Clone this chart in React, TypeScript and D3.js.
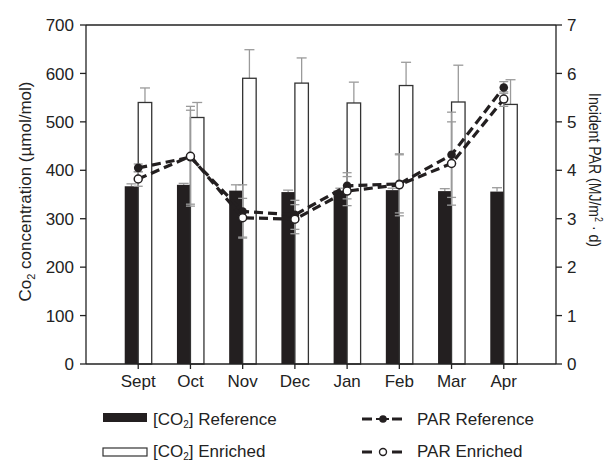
import React from "react";
import * as d3 from "d3";

const months = ["Sept", "Oct", "Nov", "Dec", "Jan", "Feb", "Mar", "Apr"];
const co2Reference = [367, 370, 358, 355, 358, 359, 357, 356];
const co2ReferenceErr = [5, 3, 12, 4, 5, 4, 5, 8];
const co2Enriched = [540, 509, 590, 580, 539, 575, 541, 536];
const co2EnrichedErr = [30, 31, 59, 52, 43, 48, 76, 51];
const parReference = [4.05, 4.27, 3.15, 3.08, 3.68, 3.72, 4.32, 5.71];
const parReferenceErr = [0.08, 0.97, 0.55, 0.3, 0.27, 0.6, 0.88, 0.12];
const parEnriched = [3.82, 4.29, 3.02, 2.99, 3.57, 3.7, 4.14, 5.47];
const parEnrichedErr = [0.15, 1.03, 0.4, 0.3, 0.3, 0.64, 0.86, 0.15];
const co2Ticks = [0, 100, 200, 300, 400, 500, 600, 700];
const parTicks = [0, 1, 2, 3, 4, 5, 6, 7];

const W = 604;
const H = 461;
const L = 86;
const R = 556;
const T = 25;
const B = 364;
const FONT = "'Liberation Sans', Arial, Helvetica, sans-serif";
const FS = 17;
const BLACK = "#231f20";
const GRAY = "#9a9a9a";

export default function App() {
  const x = d3.scalePoint<string>().domain(months).range([L, R]).padding(1);
  const y = d3.scaleLinear().domain([0, 700]).range([B, T]);
  const yp = d3.scaleLinear().domain([0, 7]).range([B, T]);
  const bw = 13.5;

  const line = d3
    .line<number>()
    .x((_, i) => x(months[i]) as number)
    .y((d) => yp(d));

  const errBar = (cx: number, lo: number, hi: number, cap: number, key: string, both = true) => (
    <g key={key} stroke={GRAY} strokeWidth={1.3}>
      <line x1={cx} x2={cx} y1={lo} y2={hi} />
      <line x1={cx - cap / 2} x2={cx + cap / 2} y1={hi} y2={hi} />
      {both && <line x1={cx - cap / 2} x2={cx + cap / 2} y1={lo} y2={lo} />}
    </g>
  );

  return (
    <svg
      width={W}
      height={H}
      style={{ position: "absolute", left: 0, top: 0, background: "#fff" }}
      fontFamily={FONT}
    >
      <rect x={0} y={0} width={W} height={H} fill="#fff" />
      {/* CO2 error bars (upward) */}
      {months.map((m, i) => {
        const c = x(m) as number;
        return (
          <g key={"ce" + m}>
            {errBar(c + bw / 2, y(co2Enriched[i]), y(co2Enriched[i] + co2EnrichedErr[i]), 10, "e", false)}
            {errBar(c - bw / 2, y(co2Reference[i]), y(co2Reference[i] + co2ReferenceErr[i]), 10, "r", false)}
          </g>
        );
      })}
      {/* bars */}
      {months.map((m, i) => {
        const c = x(m) as number;
        return (
          <g key={"b" + m}>
            <rect x={c - bw} y={y(co2Reference[i])} width={bw} height={B - y(co2Reference[i])} fill={BLACK} />
            <rect
              x={c}
              y={y(co2Enriched[i])}
              width={bw}
              height={B - y(co2Enriched[i])}
              fill="#fff"
              stroke="#333"
              strokeWidth={1.3}
            />
          </g>
        );
      })}
      {/* PAR error bars */}
      {months.map((m, i) => {
        const c = x(m) as number;
        return (
          <g key={"pe" + m}>
            {errBar(c, yp(parReference[i] - parReferenceErr[i]), yp(parReference[i] + parReferenceErr[i]), 9, "r")}
            {errBar(c, yp(parEnriched[i] - parEnrichedErr[i]), yp(parEnriched[i] + parEnrichedErr[i]), 9, "e")}
          </g>
        );
      })}
      {/* PAR lines */}
      <path d={line(parReference) || ""} fill="none" stroke={BLACK} strokeWidth={3.2} strokeDasharray="9,5" />
      {parReference.map((v, i) => (
        <circle key={"pr" + i} cx={x(months[i]) as number} cy={yp(v)} r={4.3} fill={BLACK} />
      ))}
      <path d={line(parEnriched) || ""} fill="none" stroke={BLACK} strokeWidth={3.2} strokeDasharray="9,5" />
      {parEnriched.map((v, i) => (
        <circle
          key={"pn" + i}
          cx={x(months[i]) as number}
          cy={yp(v)}
          r={4}
          fill="#fff"
          stroke={BLACK}
          strokeWidth={1.5}
        />
      ))}
      {/* frame */}
      <line x1={L} x2={R} y1={T} y2={T} stroke="#222" strokeWidth={1.3} />
      <line x1={L} x2={R} y1={B} y2={B} stroke="#222" strokeWidth={1.3} />
      <line x1={L} x2={L} y1={T} y2={B} stroke="#222" strokeWidth={1.3} />
      <line x1={R} x2={R} y1={T} y2={B} stroke="#222" strokeWidth={1.3} />
      {/* left axis */}
      {co2Ticks.map((t) => (
        <g key={"lt" + t}>
          <line x1={L - 6} x2={L} y1={y(t)} y2={y(t)} stroke="#222" strokeWidth={1.3} />
          <text x={L - 12} y={y(t)} dy="0.36em" textAnchor="end" fontSize={FS} fill="#222">
            {t}
          </text>
        </g>
      ))}
      {/* right axis */}
      {parTicks.map((t) => (
        <g key={"rt" + t}>
          <line x1={R} x2={R + 6} y1={yp(t)} y2={yp(t)} stroke="#222" strokeWidth={1.3} />
          <text x={R + 11} y={yp(t)} dy="0.36em" textAnchor="start" fontSize={FS} fill="#222">
            {t}
          </text>
        </g>
      ))}
      {/* x axis */}
      {months.map((m) => (
        <g key={"xt" + m}>
          <line x1={x(m) as number} x2={x(m) as number} y1={B} y2={B + 5} stroke="#222" strokeWidth={1.3} />
          <text x={x(m) as number} y={387} textAnchor="middle" fontSize={FS} fill="#222">
            {m}
          </text>
        </g>
      ))}
      {/* axis titles */}
      <text transform={`translate(31,${(T + B) / 2 - 3}) rotate(-90)`} textAnchor="middle" fontSize={FS} fill="#222">
        Co<tspan fontSize={11} dy={4}>2</tspan>
        <tspan dy={-4}> concentration (µmol/mol)</tspan>
      </text>
      <text
        transform={`translate(589,170) rotate(90) scale(0.88,1)`}
        textAnchor="middle"
        fontSize={16}
        fill="#222"
      >
        Incident PAR (MJ/m<tspan fontSize={10} dy={-6}>2</tspan>
        <tspan dy={6}> · d)</tspan>
      </text>
      {/* legend */}
      <rect x={103} y={413} width={44} height={9} fill={BLACK} />
      <text x={153} y={425} fontSize={FS} fill="#222">
        [CO<tspan fontSize={10} dy={3}>2</tspan>
        <tspan dy={-3}>] Reference</tspan>
      </text>
      <rect x={103} y={448} width={44} height={8} fill="#fff" stroke="#333" strokeWidth={1.2} />
      <text x={153} y={457} fontSize={FS} fill="#222">
        [CO<tspan fontSize={10} dy={2.5}>2</tspan>
        <tspan dy={-2.5}>] Enriched</tspan>
      </text>
      <g stroke={BLACK} strokeWidth={3}>
        <line x1={362} x2={372} y1={419} y2={419} />
        <line x1={392} x2={402} y1={419} y2={419} />
        <line x1={362} x2={372} y1={452} y2={452} />
        <line x1={392} x2={402} y1={452} y2={452} />
      </g>
      <line x1={376} x2={389} y1={419} y2={419} stroke={BLACK} strokeWidth={2} />
      <circle cx={383} cy={419} r={3.8} fill={BLACK} />
      <circle cx={383} cy={452} r={3.5} fill="#fff" stroke={BLACK} strokeWidth={1.4} />
      <text x={417} y={425} fontSize={FS} fill="#222">
        PAR Reference
      </text>
      <text x={417} y={457} fontSize={FS} fill="#222">
        PAR Enriched
      </text>
    </svg>
  );
}
